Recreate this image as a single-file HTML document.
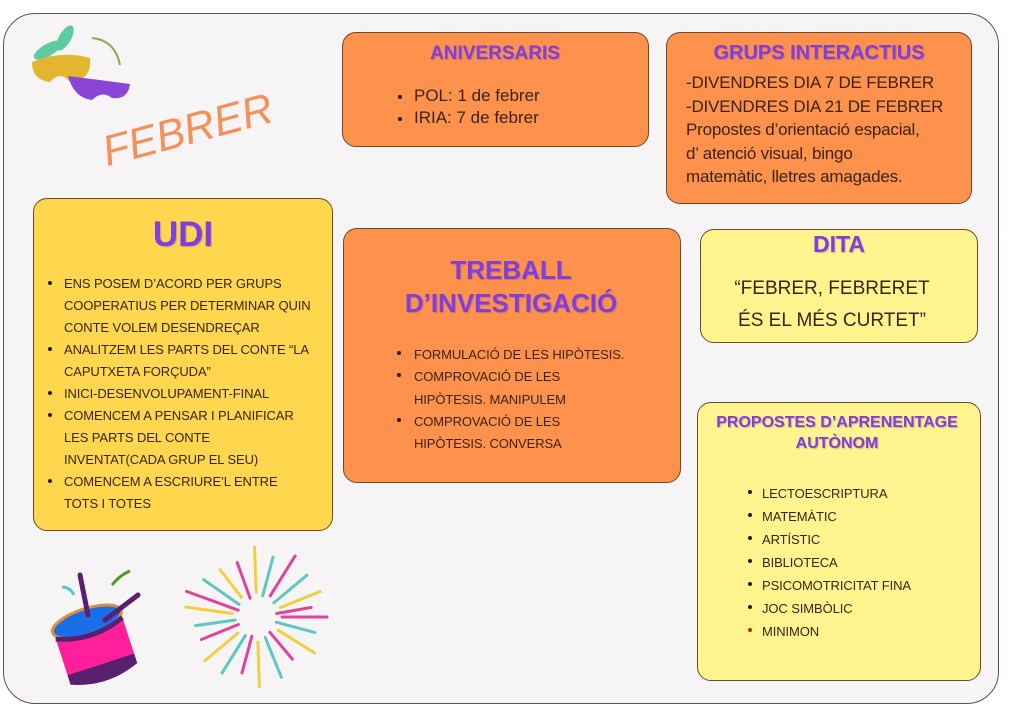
<!DOCTYPE html>
<html><head><meta charset="utf-8"><style>
*{margin:0;padding:0;box-sizing:border-box}
body{width:1024px;height:724px;background:#fff;position:relative;overflow:hidden;font-family:"Liberation Sans",sans-serif;color:#3a2418}
.frame{position:absolute;left:3px;top:13px;width:996px;height:691px;border:1.5px solid #555;border-radius:32px;background:#f6f4f5}
.box{position:absolute;border:1.3px solid #6b4a2a;border-radius:14px}
.or{background:#fe914b}
.yl{background:#fed74f}
.lt{background:#fff48d}
.t{position:absolute;white-space:nowrap}
.h{color:#7e3ee0;font-weight:bold;text-shadow:1px 1px 1px rgba(120,60,120,.35);text-align:center;transform:translateX(-50%)}
.l{font-size:13px;letter-spacing:-0.1px}
.b{position:absolute;width:4px;height:4px;border-radius:50%;background:#2a1a10}
</style></head><body>
<div class="frame"></div>

<!-- masks -->
<svg style="position:absolute;left:20px;top:20px" width="120" height="85">
<ellipse cx="28" cy="30" rx="16" ry="6" fill="#5fc9a0" transform="rotate(-30 28 30)"/>
<ellipse cx="45" cy="18" rx="14" ry="6" fill="#5fc9a0" transform="rotate(-60 45 18)"/>
<path d="M12 42 Q40 30 70 38 Q72 60 50 62 Q40 50 30 62 Q12 60 12 42Z" fill="#e4b630"/>
<path d="M48 56 Q80 60 110 64 Q108 80 92 78 Q82 70 72 80 Q54 78 48 56Z" fill="#8a45d6"/>
<path d="M72 18 Q95 20 100 45" stroke="#8ab04a" stroke-width="2" fill="none"/>
</svg>

<div class="t" style="left:110px;top:128px;font-size:43px;color:#f4915a;font-style:italic;transform:rotate(-15deg);transform-origin:left bottom">FEBRER</div>

<!-- ANIVERSARIS -->
<div class="box or" style="left:342px;top:32px;width:307px;height:115px"></div>
<div class="t h" style="left:495px;top:43px;font-size:19px">ANIVERSARIS</div>
<div class="b" style="left:398px;top:95px"></div><div class="t" style="left:414px;top:86px;font-size:17px">POL: 1 de febrer</div>
<div class="b" style="left:398px;top:117px"></div><div class="t" style="left:414px;top:108px;font-size:17px">IRIA: 7 de febrer</div>

<!-- GRUPS -->
<div class="box or" style="left:666px;top:32px;width:306px;height:172px"></div>
<div class="t h" style="left:819px;top:42px;font-size:20px">GRUPS INTERACTIUS</div>
<div class="t" style="left:686px;top:71px;font-size:17px;line-height:23.5px;letter-spacing:-0.2px">-DIVENDRES DIA 7 DE FEBRER<br>-DIVENDRES DIA 21 DE FEBRER<br>Propostes d’orientació espacial,<br>d’ atenció visual, bingo<br>matemàtic, lletres amagades.</div>

<!-- UDI -->
<div class="box yl" style="left:33px;top:198px;width:300px;height:333px"></div>
<div class="t h" style="left:183px;top:215px;font-size:35px">UDI</div>
<div class="t l" style="left:64px;top:273px;line-height:22px">ENS POSEM D’ACORD PER GRUPS<br>COOPERATIUS PER DETERMINAR QUIN<br>CONTE VOLEM DESENDREÇAR<br>ANALITZEM LES PARTS DEL CONTE “LA<br>CAPUTXETA FORÇUDA”<br>INICI-DESENVOLUPAMENT-FINAL<br>COMENCEM A PENSAR I PLANIFICAR<br>LES PARTS DEL CONTE<br>INVENTAT(CADA GRUP EL SEU)<br>COMENCEM A ESCRIURE’L ENTRE<br>TOTS I TOTES</div>
<div class="b" style="left:48px;top:281px"></div>
<div class="b" style="left:48px;top:347px"></div>
<div class="b" style="left:48px;top:391px"></div>
<div class="b" style="left:48px;top:413px"></div>
<div class="b" style="left:48px;top:479px"></div>

<!-- TREBALL -->
<div class="box or" style="left:343px;top:228px;width:338px;height:255px"></div>
<div class="t h" style="left:511px;top:254px;font-size:26px;line-height:33px">TREBALL<br>D’INVESTIGACIÓ</div>
<div class="t l" style="left:414px;top:344px;line-height:22.3px">FORMULACIÓ DE LES HIPÒTESIS.<br>COMPROVACIÓ DE LES<br>HIPÒTESIS. MANIPULEM<br>COMPROVACIÓ DE LES<br>HIPÒTESIS. CONVERSA</div>
<div class="b" style="left:397px;top:351px"></div>
<div class="b" style="left:397px;top:373px"></div>
<div class="b" style="left:397px;top:418px"></div>

<!-- DITA -->
<div class="box lt" style="left:700px;top:229px;width:278px;height:114px"></div>
<div class="t h" style="left:839px;top:231px;font-size:23px">DITA</div>
<div class="t" style="left:832px;top:273px;font-size:19px;line-height:32px;text-align:center;transform:translateX(-50%)">“FEBRER, FEBRERET<br>ÉS EL MÉS CURTET”</div>

<!-- PROPOSTES -->
<div class="box lt" style="left:697px;top:402px;width:284px;height:279px"></div>
<div class="t h" style="left:837px;top:412px;font-size:16px;line-height:21px">PROPOSTES D’APRENENTAGE<br>AUTÒNOM</div>
<div class="t l" style="left:762px;top:482px;line-height:23px">LECTOESCRIPTURA<br>MATEMÀTIC<br>ARTÍSTIC<br>BIBLIOTECA<br>PSICOMOTRICITAT FINA<br>JOC SIMBÒLIC<br>MINIMON</div>
<div class="b" style="left:748px;top:490px"></div>
<div class="b" style="left:748px;top:513px"></div>
<div class="b" style="left:748px;top:536px"></div>
<div class="b" style="left:748px;top:559px"></div>
<div class="b" style="left:748px;top:582px"></div>
<div class="b" style="left:748px;top:605px"></div>
<div class="b" style="left:748px;top:628px;background:#b02a10"></div>

<!-- drum -->
<svg style="position:absolute;left:40px;top:565px" width="120" height="125">
<g transform="rotate(-18 55 75)">
<rect x="18" y="55" width="70" height="55" fill="#ff1f9a"/>
<path d="M18 100 h70 v10 q-35 14 -70 0z" fill="#5a2070"/>
<ellipse cx="53" cy="55" rx="36" ry="13" fill="#1a6ee8" stroke="#e0903a" stroke-width="3"/>
<path d="M18 62 q35 14 70 0" stroke="#5a2070" stroke-width="5" fill="none"/>
</g>
<line x1="40" y1="10" x2="48" y2="50" stroke="#5a2070" stroke-width="5" stroke-linecap="round"/>
<line x1="98" y1="30" x2="65" y2="55" stroke="#5a2070" stroke-width="5" stroke-linecap="round"/>
<path d="M72 20 q8 -10 18 -14" stroke="#4a9a20" stroke-width="3" fill="none"/>
<path d="M22 22 q8 0 12 8" stroke="#5cc6d0" stroke-width="3" fill="none"/>
</svg>

<!-- fireworks -->
<svg style="position:absolute;left:0;top:0" width="1024" height="724">
<g transform="translate(257,617)" stroke-width="3" stroke-linecap="round">
<line x1="25" x2="70" stroke="#e0449a" transform="rotate(0)"/>
<line x1="20" x2="60" stroke="#5cc8c0" transform="rotate(15)"/>
<line x1="25" x2="68" stroke="#f0d040" transform="rotate(32)"/>
<line x1="20" x2="55" stroke="#e0449a" transform="rotate(50)"/>
<line x1="22" x2="65" stroke="#5cc8c0" transform="rotate(68)"/>
<line x1="25" x2="70" stroke="#f0d040" transform="rotate(88)"/>
<line x1="20" x2="58" stroke="#e0449a" transform="rotate(105)"/>
<line x1="22" x2="66" stroke="#5cc8c0" transform="rotate(122)"/>
<line x1="25" x2="68" stroke="#f0d040" transform="rotate(140)"/>
<line x1="20" x2="60" stroke="#e0449a" transform="rotate(158)"/>
<line x1="22" x2="62" stroke="#5cc8c0" transform="rotate(172)"/>
<line x1="25" x2="72" stroke="#f0d040" transform="rotate(188)"/>
<line x1="20" x2="75" stroke="#e0449a" transform="rotate(200)"/>
<line x1="22" x2="65" stroke="#5cc8c0" transform="rotate(215)"/>
<line x1="25" x2="60" stroke="#f0d040" transform="rotate(232)"/>
<line x1="20" x2="58" stroke="#e0449a" transform="rotate(250)"/>
<line x1="25" x2="70" stroke="#f0d040" transform="rotate(268)"/>
<line x1="22" x2="62" stroke="#5cc8c0" transform="rotate(285)"/>
<line x1="25" x2="72" stroke="#e0449a" transform="rotate(302)"/>
<line x1="22" x2="65" stroke="#5cc8c0" transform="rotate(320)"/>
<line x1="25" x2="68" stroke="#f0d040" transform="rotate(338)"/>
<line x1="20" x2="55" stroke="#e0449a" transform="rotate(350)"/>
</g>
</svg>
</body></html>
